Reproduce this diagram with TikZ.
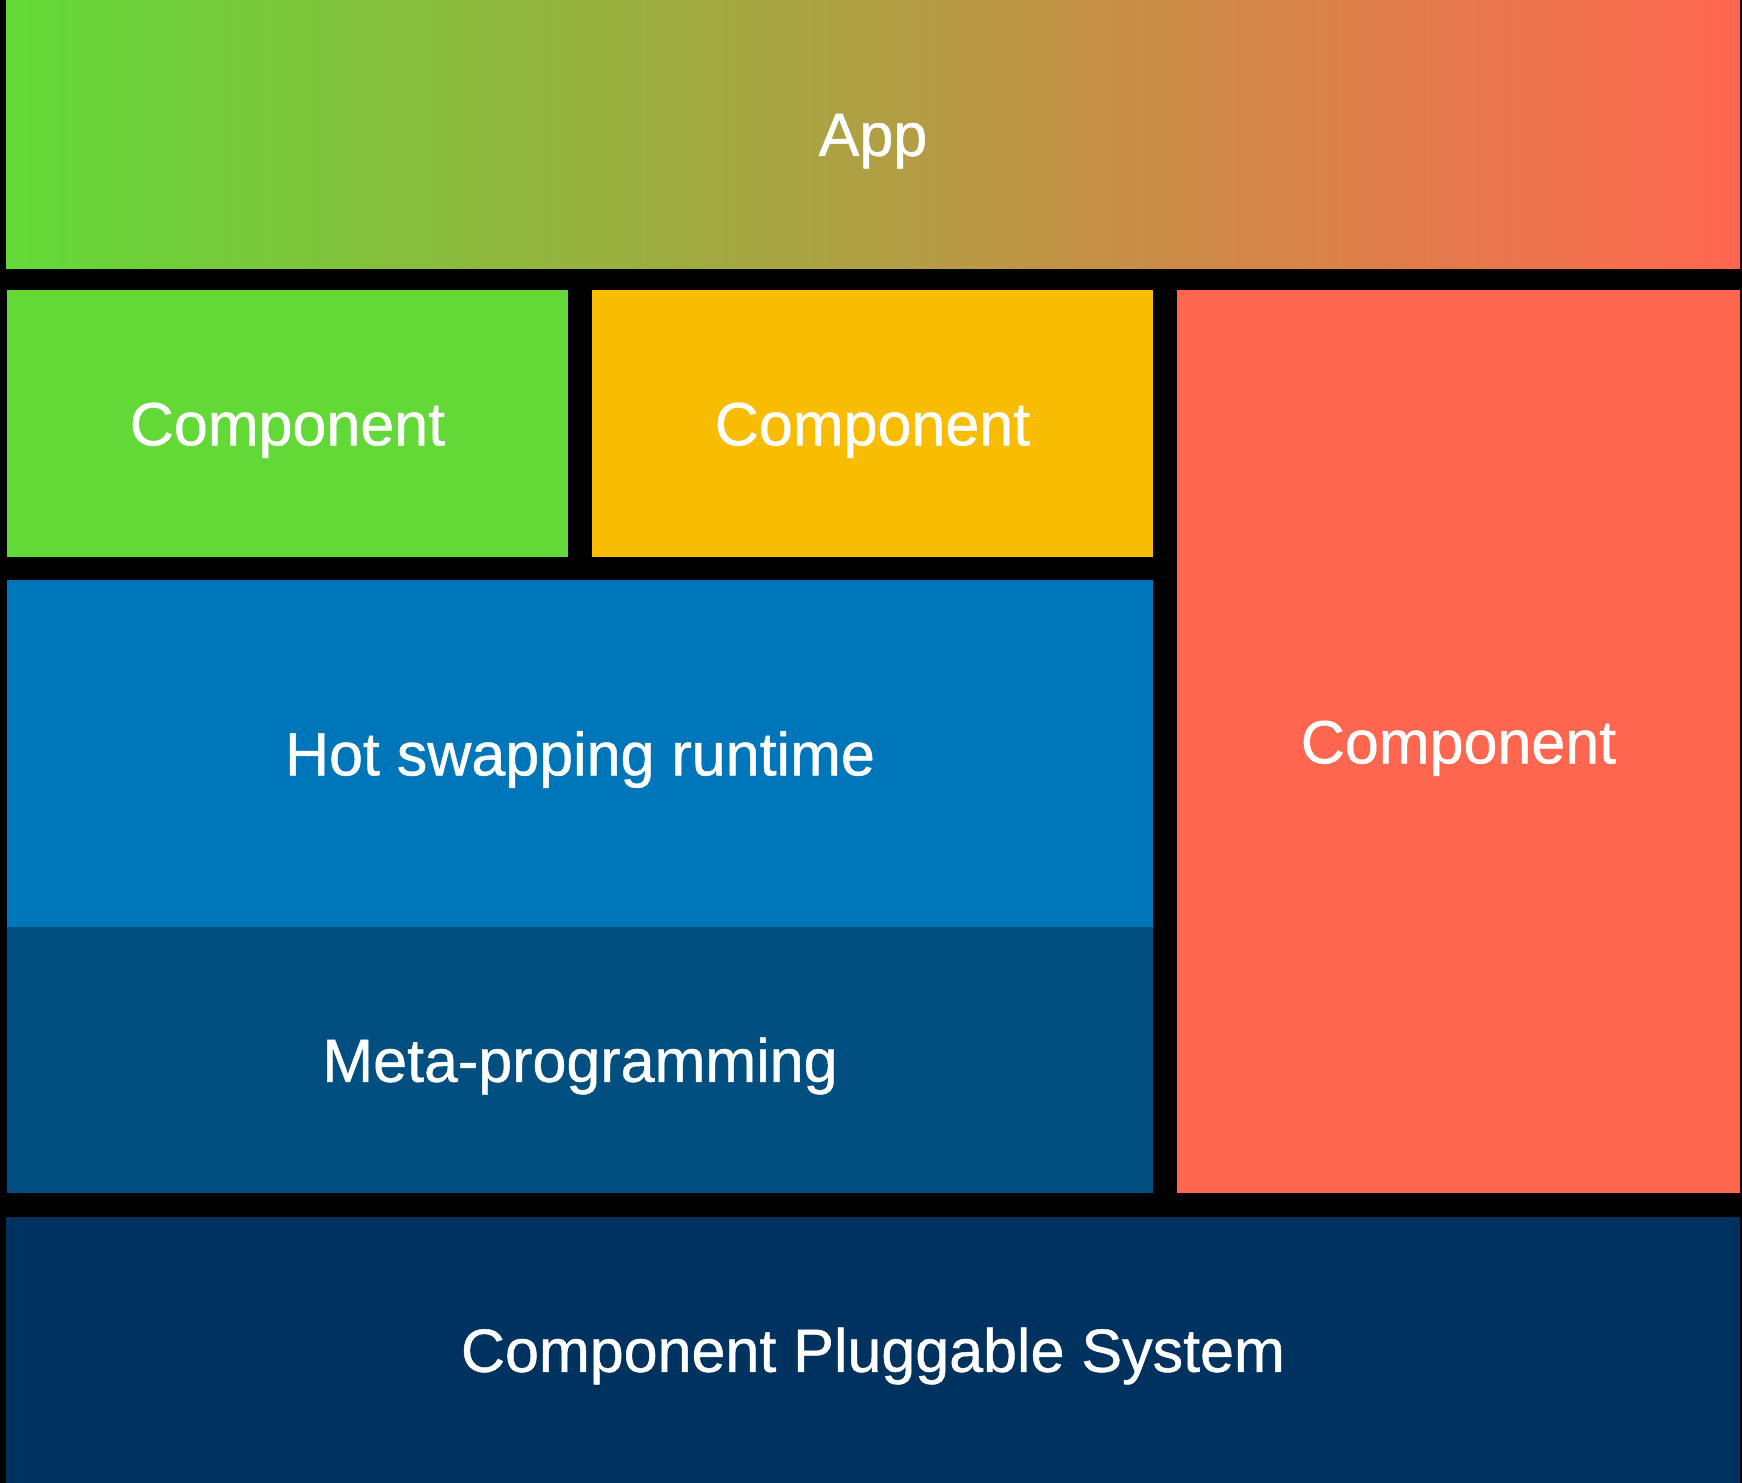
\documentclass[tikz,border=0pt]{standalone}
\usepackage{fontspec}
\setmainfont{Liberation Sans}[RawFeature={embolden=0.8}]
\usepackage{tikz}

\definecolor{compgreen}{HTML}{62D937}
\definecolor{comporange}{HTML}{F8BD00}
\definecolor{compred}{HTML}{FF664F}
\definecolor{hotblue}{HTML}{0076BA}
\definecolor{metablue}{HTML}{004F80}
\definecolor{basenavy}{HTML}{003260}

\tikzset{
  layer/.style={inner sep=0pt, outer sep=0pt, text=white,
    text height=21.8pt, text depth=0pt,
    font=\fontsize{30.5}{36}\selectfont}
}

\begin{document}
\begin{tikzpicture}[x=0.5pt, y=-0.5pt]
					\fill[black] (0,0) rectangle (1742,1483);
					\useasboundingbox (0,0) rectangle (1742,1483);
					\node[layer, shading=axis, left color=compgreen, right color=compred,
						minimum width=867pt, minimum height=134pt] (app) at (873,134) {App};
					\node[layer, fill=compgreen, minimum width=280.5pt, minimum height=133.5pt] (c1) at (287.5,423.5) {Component};
					\node[layer, fill=comporange, minimum width=280.5pt, minimum height=133.5pt] (c2) at (872.5,423.5) {Component};
					\node[layer, fill=compred, minimum width=281.5pt, minimum height=451.5pt] (c3) at (1458.5,741.5) {Component};
					\node[layer, fill=hotblue, minimum width=573pt, minimum height=173.5pt] (hot) at (580,753.5) {Hot swapping runtime};
					\node[layer, fill=metablue, minimum width=573pt, minimum height=133pt] (meta) at (580,1060) {Meta-programming};
					\node[layer, fill=basenavy, minimum width=867pt, minimum height=133pt] (base) at (873,1350) {Component Pluggable System};
				\end{tikzpicture}
\end{document}
